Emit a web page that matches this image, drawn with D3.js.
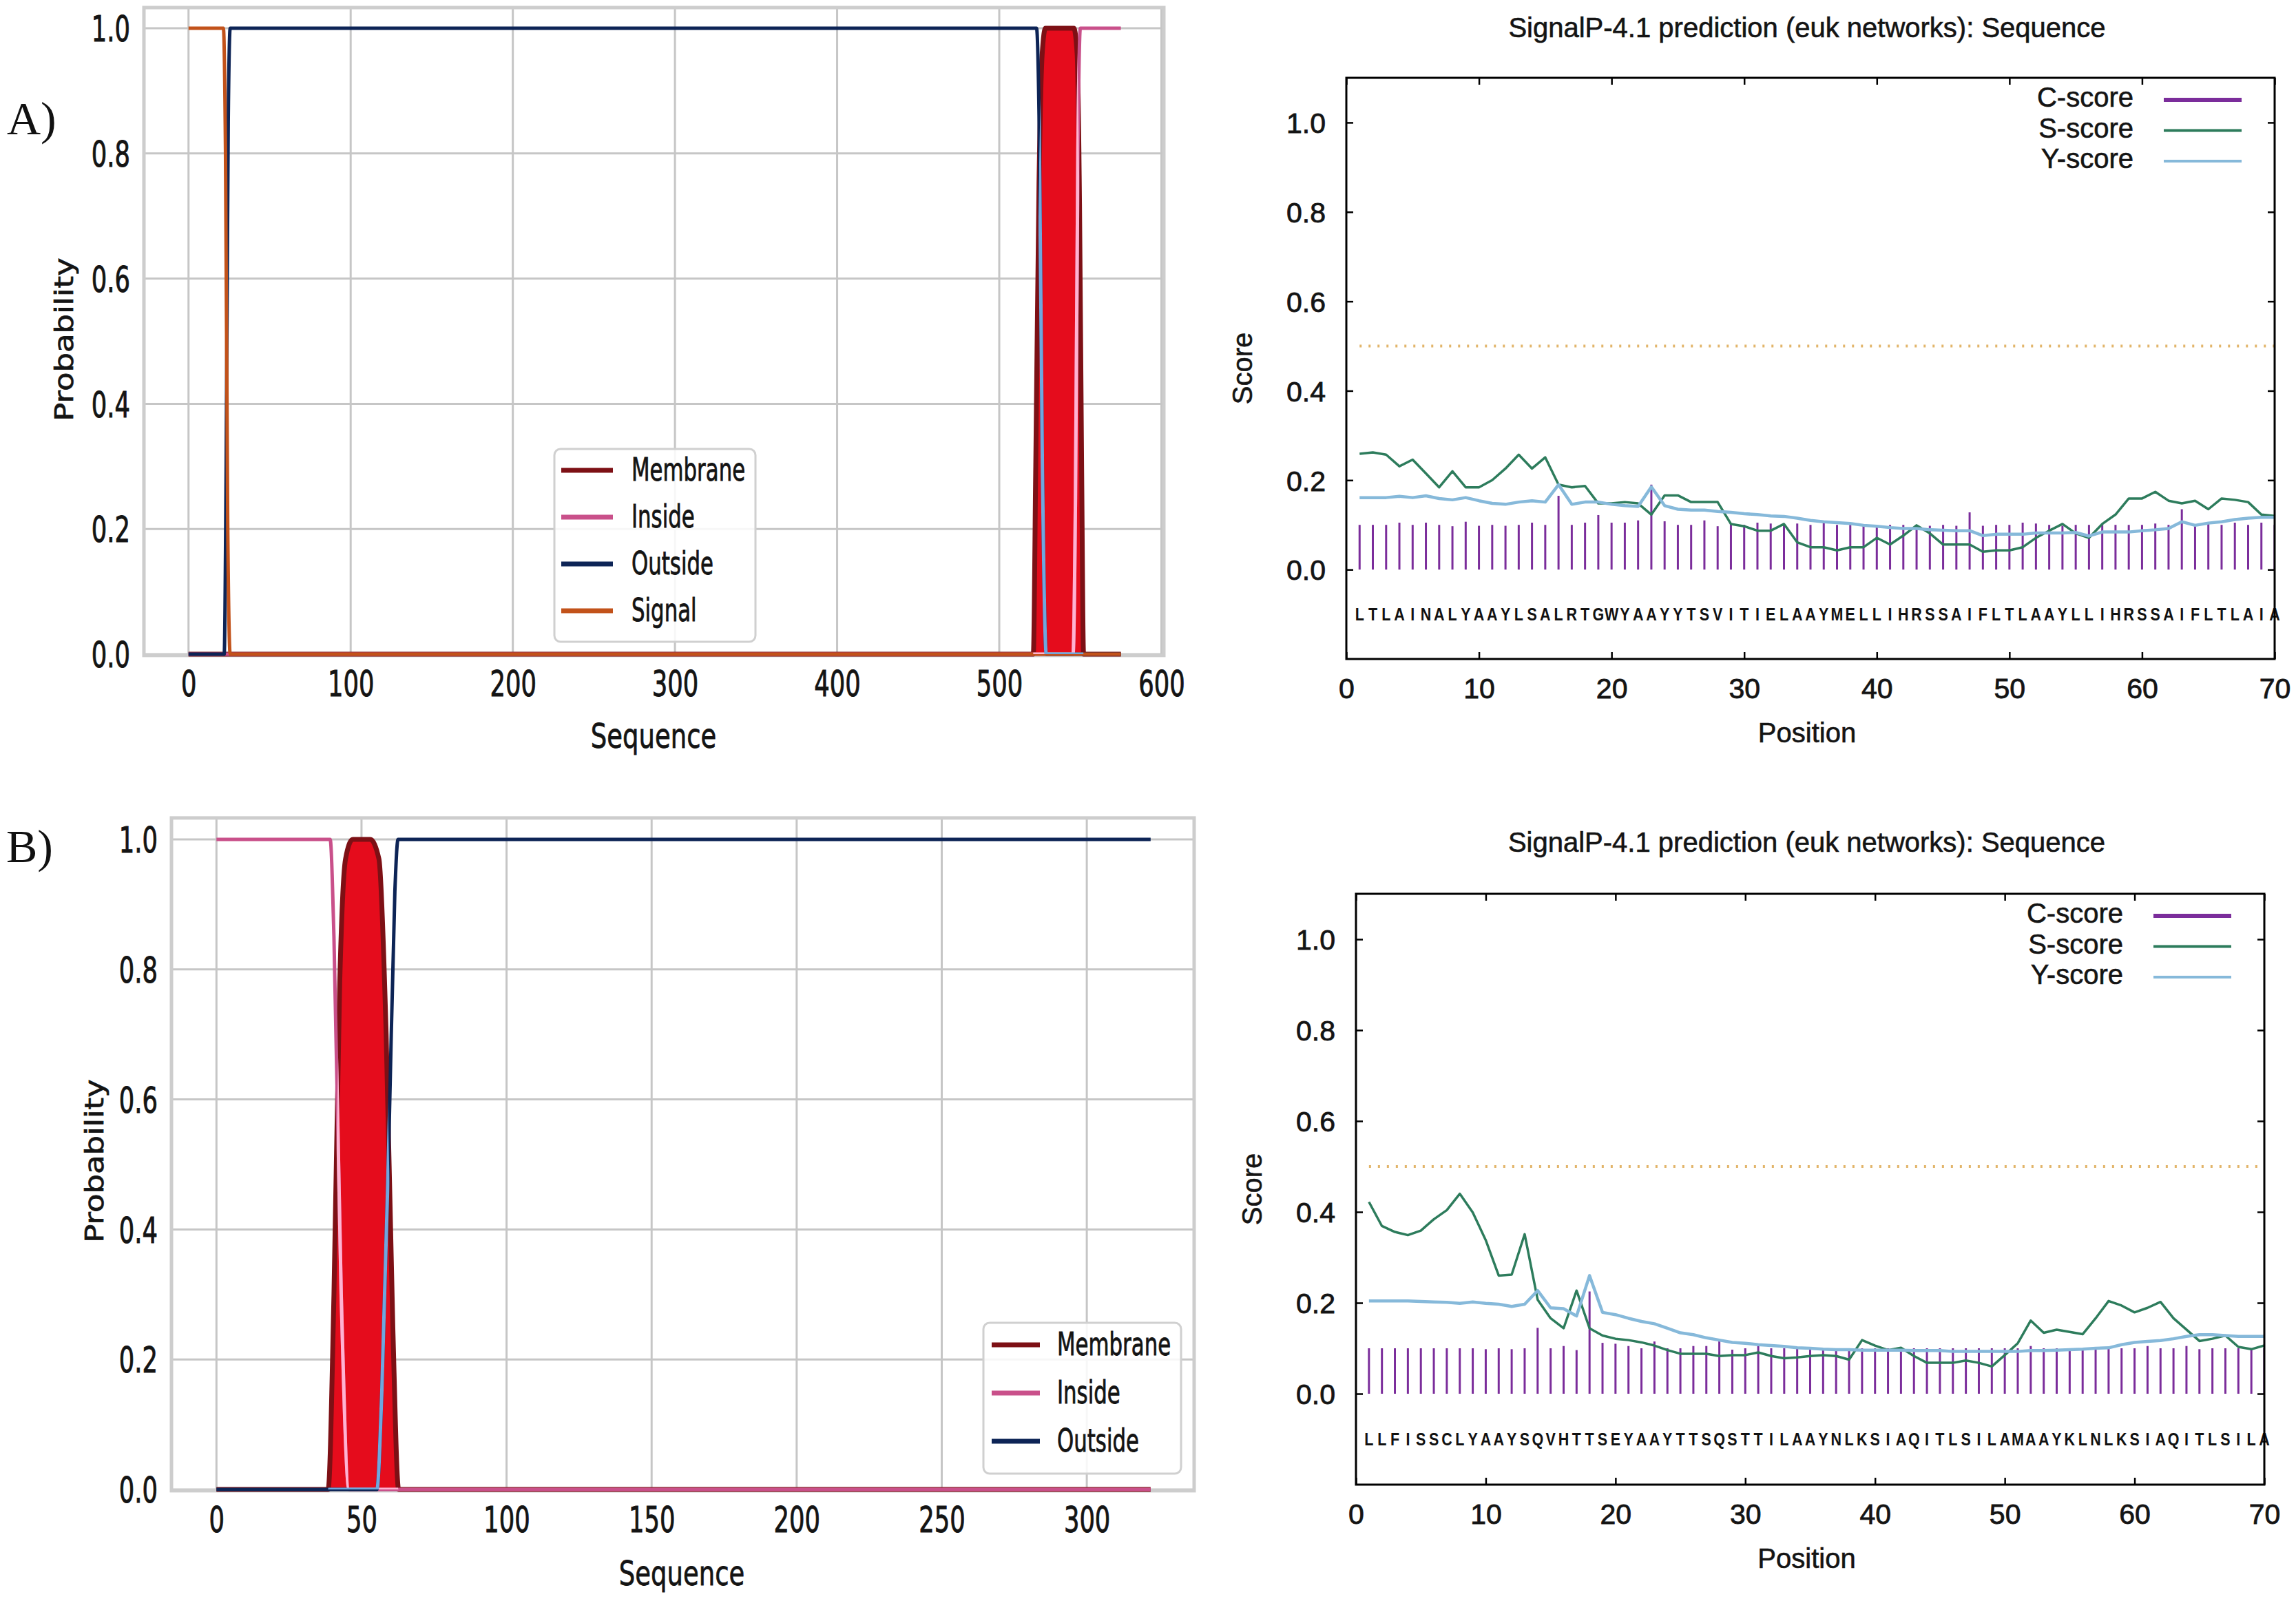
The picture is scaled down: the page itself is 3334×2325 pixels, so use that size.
<!DOCTYPE html>
<html><head><meta charset="utf-8">
<script src="https://cdn.jsdelivr.net/npm/d3@7"></script>
<style>html,body{margin:0;padding:0;background:#fff;} svg{display:block;}</style>
</head><body>
<svg id="chart" width="3334" height="2325"></svg>
<script>
// ---------------- DATA ----------------
// Left panels: topology probabilities (x = sequence position, y = probability)
const tmA_ticksX = [0, 100, 200, 300, 400, 500, 600];
const tmB_ticksX = [0, 50, 100, 150, 200, 250, 300];
const tm_ticksY = [0, 0.2, 0.4, 0.6, 0.8, 1.0];

const tmA_membrane_x = [0, 521, 522.5, 524.5, 526.5, 528.5, 546, 548, 549.5, 550.8, 552, 575];
const tmA_membrane_y = [0, 0, 0.3, 0.75, 0.96, 1, 1, 0.96, 0.72, 0.3, 0, 0];
const tmA_inside_x = [0, 545.5, 547, 548.5, 550, 575];
const tmA_inside_y = [0, 0, 0.25, 0.8, 1, 1];
const tmA_outside_x = [0, 22, 23.2, 24.5, 25.7, 523, 524.6, 526.6, 529, 575];
const tmA_outside_y = [0, 0, 0.3, 0.85, 1, 1, 0.85, 0.3, 0, 0];
const tmA_signal_x = [0, 21.5, 22.8, 24.2, 25.7, 575];
const tmA_signal_y = [1, 1, 0.8, 0.2, 0, 0];

const tmB_membrane_x = [0, 38.5, 40.5, 42.5, 44.5, 47, 50, 53, 56, 58.5, 60.8, 62.8, 322];
const tmB_membrane_y = [0, 0, 0.3, 0.78, 0.97, 1, 1, 1, 0.97, 0.7, 0.25, 0, 0];
const tmB_inside_x = [0, 39.2, 40.5, 43, 45.7, 322];
const tmB_inside_y = [1, 1, 0.85, 0.3, 0, 0];
const tmB_outside_x = [0, 55.3, 57, 59.5, 61.5, 62.6, 322];
const tmB_outside_y = [0, 0, 0.15, 0.55, 0.92, 1, 1];

const tmA_legend = ["Membrane", "Inside", "Outside", "Signal"];
const tmB_legend = ["Membrane", "Inside", "Outside"];

// Right panels: SignalP-4.1 scores at positions 1..70
const sp_ticksX = [0, 10, 20, 30, 40, 50, 60, 70];
const sp_ticksY = [0, 0.2, 0.4, 0.6, 0.8, 1.0];
const sp_threshold = 0.5;

const spA_letters = "LTLAINALYAAYLSALRTGWYAAYYTSVITIELAAYMELLIHRSSAIFLTLAAYLLIHRSSAIFLTLAIA";
const spA_C = [0.10,0.10,0.10,0.105,0.10,0.105,0.10,0.097,0.107,0.098,
               0.10,0.098,0.10,0.105,0.10,0.165,0.10,0.105,0.122,0.105,
               0.105,0.11,0.19,0.108,0.10,0.10,0.11,0.097,0.103,0.10,
               0.105,0.103,0.10,0.103,0.10,0.105,0.10,0.10,0.10,0.098,
               0.10,0.10,0.10,0.098,0.10,0.098,0.128,0.098,0.10,0.10,
               0.105,0.103,0.10,0.098,0.10,0.10,0.10,0.10,0.10,0.10,
               0.103,0.10,0.135,0.10,0.105,0.10,0.105,0.10,0.105,0.10];
const spA_S = [0.259,0.262,0.257,0.231,0.246,0.215,0.184,0.220,0.184,0.184,
               0.200,0.226,0.257,0.226,0.251,0.190,0.184,0.187,0.148,0.148,
               0.151,0.148,0.123,0.166,0.166,0.151,0.151,0.151,0.102,0.097,
               0.087,0.087,0.102,0.061,0.050,0.050,0.043,0.050,0.050,0.071,
               0.056,0.076,0.099,0.081,0.056,0.056,0.056,0.040,0.043,0.043,
               0.050,0.071,0.087,0.102,0.081,0.071,0.102,0.123,0.159,0.159,
               0.174,0.154,0.148,0.154,0.135,0.159,0.156,0.151,0.123,0.120];
const spA_Y = [0.161,0.161,0.161,0.164,0.161,0.165,0.159,0.156,0.161,0.154,
               0.148,0.146,0.151,0.154,0.151,0.190,0.146,0.151,0.151,0.146,
               0.143,0.141,0.185,0.143,0.135,0.133,0.133,0.130,0.128,0.125,
               0.123,0.120,0.119,0.115,0.110,0.107,0.105,0.103,0.099,0.097,
               0.094,0.092,0.092,0.089,0.088,0.087,0.087,0.076,0.079,0.079,
               0.079,0.082,0.082,0.082,0.083,0.075,0.084,0.084,0.084,0.087,
               0.089,0.092,0.107,0.099,0.104,0.107,0.112,0.115,0.117,0.117];

const spB_letters = "LLFISSCLYAAYSQVHTTSEYAAYTTSQSTTILAAYNLKSIAQITLSILAMAAYKLNLKSIAQITLSILA";
const spB_C = [0.10,0.10,0.10,0.10,0.10,0.10,0.10,0.10,0.10,0.098,
               0.10,0.098,0.10,0.145,0.10,0.105,0.096,0.225,0.112,0.11,
               0.105,0.10,0.115,0.10,0.10,0.105,0.105,0.115,0.097,0.10,
               0.105,0.10,0.10,0.10,0.10,0.10,0.10,0.10,0.10,0.10,
               0.10,0.10,0.10,0.10,0.10,0.10,0.10,0.10,0.10,0.10,
               0.10,0.105,0.10,0.10,0.10,0.10,0.10,0.10,0.10,0.10,
               0.105,0.10,0.10,0.105,0.098,0.10,0.10,0.10,0.10,0.10];
const spB_S = [0.422,0.369,0.356,0.349,0.359,0.384,0.404,0.440,0.399,0.338,
               0.260,0.262,0.351,0.207,0.166,0.144,0.227,0.144,0.128,0.121,
               0.118,0.113,0.106,0.096,0.088,0.088,0.088,0.083,0.085,0.085,
               0.091,0.083,0.078,0.080,0.083,0.085,0.083,0.075,0.118,0.106,
               0.096,0.101,0.083,0.068,0.068,0.068,0.073,0.068,0.060,0.085,
               0.111,0.161,0.134,0.141,0.136,0.131,0.166,0.204,0.194,0.179,
               0.189,0.202,0.166,0.141,0.116,0.121,0.128,0.103,0.098,0.106];
const spB_Y = [0.204,0.204,0.204,0.204,0.203,0.202,0.201,0.199,0.202,0.199,
               0.197,0.192,0.197,0.227,0.189,0.187,0.171,0.260,0.179,0.174,
               0.166,0.159,0.154,0.144,0.134,0.130,0.123,0.118,0.113,0.111,
               0.108,0.106,0.104,0.101,0.100,0.098,0.097,0.097,0.096,0.096,
               0.096,0.096,0.095,0.095,0.095,0.093,0.093,0.093,0.093,0.093,
               0.093,0.095,0.095,0.096,0.097,0.098,0.100,0.101,0.108,0.113,
               0.115,0.117,0.121,0.126,0.130,0.130,0.128,0.126,0.126,0.126];
const sp_legend = ["C-score", "S-score", "Y-score"];

// ---------------- STYLE ----------------
const COL = {
  membrane: "#7d1015", membraneFill: "#e50c1c",
  inside: "#c9508a", insideLight: "#ffb3d2",
  outside: "#0d2456", outsideLight: "#6fa7de",
  signal: "#c2521a",
  grid: "#c6c6c6", frame: "#cdcdcd",
  C: "#7b2d9b", S: "#2d7c5c", Y: "#86b9da", thr: "#e2b56a"
};
const DV = "'DejaVu Sans', sans-serif";
const LS = "'Liberation Sans', Arial, sans-serif";
const INK = "#141414";

const svg = d3.select("#chart");
svg.append("rect").attr("width", 3334).attr("height", 2325).attr("fill", "#fff");
const defs = svg.append("defs");

function pairs(xs, ys) { return xs.map((v, i) => [v, ys[i]]); }
function heavy(sel, w) { return sel.attr("stroke", INK).attr("stroke-width", w).attr("paint-order", "stroke"); }

// ---------------- LEFT PANELS ----------------
function drawTM(cfg) {
  const g = svg.append("g");
  const x = d3.scaleLinear().domain(cfg.xDomain).range([cfg.left, cfg.right]);
  const y = d3.scaleLinear().domain([0, 1]).range([cfg.zeroY, cfg.oneY]);
  const top = y(1.033), bottom = y(-0.002);

  // grid
  g.append("g").selectAll("line").data(cfg.xTicks).join("line")
    .attr("x1", d => x(d)).attr("x2", d => x(d)).attr("y1", top).attr("y2", bottom)
    .attr("stroke", COL.grid).attr("stroke-width", 3);
  g.append("g").selectAll("line").data(tm_ticksY).join("line")
    .attr("x1", cfg.left).attr("x2", cfg.right).attr("y1", d => y(d)).attr("y2", d => y(d))
    .attr("stroke", COL.grid).attr("stroke-width", 3);
  g.append("rect").attr("x", cfg.left).attr("y", top)
    .attr("width", cfg.right - cfg.left).attr("height", bottom - top)
    .attr("fill", "none").attr("stroke", COL.frame).attr("stroke-width", 5);

  const line = d3.line().x(d => x(d[0])).y(d => y(d[1])).curve(d3.curveMonotoneX);
  const area = d3.area().x(d => x(d[0])).y0(y(0)).y1(d => y(d[1])).curve(d3.curveMonotoneX);

  const mem = pairs(cfg.membrane[0], cfg.membrane[1]);
  g.append("path").attr("d", area(mem)).attr("fill", COL.membraneFill);
  g.append("path").attr("d", line(mem)).attr("fill", "none")
    .attr("stroke", COL.membrane).attr("stroke-width", 7).attr("stroke-linejoin", "round");

  const clipId = cfg.id + "-memclip";
  defs.append("clipPath").attr("id", clipId).append("path").attr("d", area(mem));

  cfg.series.forEach(s => {
    g.append("path").attr("d", line(pairs(s.x, s.y))).attr("fill", "none")
      .attr("stroke", s.color).attr("stroke-width", 5).attr("stroke-linejoin", "round");
  });
  cfg.series.filter(s => s.light).forEach(s => {
    g.append("path").attr("d", line(pairs(s.x, s.y))).attr("fill", "none")
      .attr("clip-path", `url(#${clipId})`)
      .attr("stroke", s.light).attr("stroke-width", 5);
  });

  // axes (labels only, squeezed DejaVu)
  const SQ = 0.68;
  const gx = g.append("g").attr("transform", `translate(0,${bottom})`)
    .call(d3.axisBottom(x).tickValues(cfg.xTicks).tickFormat(d3.format("d")).tickSize(0));
  gx.select(".domain").remove();
  heavy(gx.selectAll("text").attr("dy", null).attr("y", cfg.xLabelBase - bottom)
    .attr("transform", `scale(${SQ},1)`)
    .style("font-family", DV).style("font-size", "52px").attr("fill", INK), 1);

  const gy = g.append("g").attr("transform", `translate(${cfg.left},0)`)
    .call(d3.axisLeft(y).tickValues(tm_ticksY).tickFormat(d3.format(".1f")).tickSize(0).tickPadding(0));
  gy.select(".domain").remove();
  heavy(gy.selectAll("text").attr("x", -20 / SQ).attr("dy", "0.36em")
    .attr("transform", `scale(${SQ},1)`)
    .style("font-family", DV).style("font-size", "52px").attr("fill", INK), 1);

  // axis titles
  heavy(g.append("text").attr("transform", `translate(${cfg.xTitle[0]},${cfg.xTitle[1]}) scale(0.74,1)`)
    .attr("text-anchor", "middle").style("font-family", DV).style("font-size", "50px")
    .attr("fill", INK).text("Sequence"), 0.8);
  heavy(g.append("text").attr("transform", `translate(${cfg.yTitle[0]},${cfg.yTitle[1]}) scale(0.82,1) rotate(-90)`)
    .attr("text-anchor", "middle").attr("dy", "0.36em").style("font-family", DV).style("font-size", "45px")
    .attr("fill", INK).text("Probability"), 0.8);

  // legend
  const L = cfg.legend;
  g.append("rect").attr("x", L.x0).attr("y", L.y0).attr("width", L.x1 - L.x0).attr("height", L.y1 - L.y0)
    .attr("rx", 9).attr("fill", "#fff").attr("fill-opacity", 0.85)
    .attr("stroke", "#d0d0d0").attr("stroke-width", 3);
  const lg = g.append("g").selectAll("g").data(cfg.legendNames).join("g")
    .attr("transform", (d, i) => `translate(0,${L.row0 + i * L.step})`);
  lg.append("line").attr("x1", L.lx0).attr("x2", L.lx1)
    .attr("stroke", d => cfg.legendColors[d]).attr("stroke-width", 7);
  heavy(lg.append("text").attr("transform", `translate(${L.tx},15) scale(0.67,1)`)
    .style("font-family", DV).style("font-size", "46px").attr("fill", INK).text(d => d), 0.9);

  // panel letter
  svg.append("text").attr("x", cfg.tag[0]).attr("y", cfg.tag[1])
    .style("font-family", "'Liberation Serif', 'Times New Roman', serif").style("font-size", "68px")
    .attr("fill", "#111").text(cfg.tagText);
}

const legendColors = { Membrane: COL.membrane, Inside: COL.inside, Outside: COL.outside, Signal: COL.signal };

drawTM({
  id: "tmA", left: 209, right: 1690, xDomain: [-27.5, 601.5], zeroY: 950, oneY: 41,
  xTicks: tmA_ticksX, xLabelBase: 1011,
  membrane: [tmA_membrane_x, tmA_membrane_y],
  series: [
    { x: tmA_inside_x, y: tmA_inside_y, color: COL.inside, light: COL.insideLight },
    { x: tmA_outside_x, y: tmA_outside_y, color: COL.outside, light: COL.outsideLight },
    { x: tmA_signal_x, y: tmA_signal_y, color: COL.signal }
  ],
  xTitle: [949, 1086], yTitle: [93, 493],
  legend: { x0: 805, y0: 652, x1: 1097, y1: 932, row0: 683, step: 68, lx0: 815, lx1: 890, tx: 917 },
  legendNames: tmA_legend, legendColors: legendColors,
  tag: [10, 195], tagText: "A)"
});

drawTM({
  id: "tmB", left: 249, right: 1734, xDomain: [-15.5, 337], zeroY: 2163, oneY: 1219,
  xTicks: tmB_ticksX, xLabelBase: 2225,
  membrane: [tmB_membrane_x, tmB_membrane_y],
  series: [
    { x: tmB_inside_x, y: tmB_inside_y, color: COL.inside, light: COL.insideLight },
    { x: tmB_outside_x, y: tmB_outside_y, color: COL.outside, light: COL.outsideLight }
  ],
  xTitle: [990, 2302], yTitle: [137, 1686],
  legend: { x0: 1428, y0: 1921, x1: 1715, y1: 2140, row0: 1953, step: 70, lx0: 1440, lx1: 1510, tx: 1535 },
  legendNames: tmB_legend, legendColors: legendColors,
  tag: [9, 1252], tagText: "B)"
});

// ---------------- RIGHT PANELS ----------------
function drawSP(cfg) {
  const g = svg.append("g");
  const x = d3.scaleLinear().domain([0, 70]).range([cfg.left, cfg.right]);
  const y = d3.scaleLinear().domain([-0.2, 1.1]).range([cfg.bottom, cfg.top]);
  const pos = d3.range(1, 71);

  const clipId = cfg.id + "-clip";
  defs.append("clipPath").attr("id", clipId).append("rect")
    .attr("x", cfg.left).attr("y", cfg.top).attr("width", cfg.right - cfg.left).attr("height", cfg.bottom - cfg.top);
  const plot = g.append("g").attr("clip-path", `url(#${clipId})`);

  // threshold
  plot.append("line").attr("x1", x(1)).attr("x2", x(70)).attr("y1", y(sp_threshold)).attr("y2", y(sp_threshold))
    .attr("stroke", COL.thr).attr("stroke-width", 4).attr("stroke-dasharray", "3,10");

  // C-score impulses
  plot.append("g").selectAll("line").data(pos).join("line")
    .attr("x1", d => x(d)).attr("x2", d => x(d)).attr("y1", y(0)).attr("y2", d => y(cfg.C[d - 1]))
    .attr("stroke", COL.C).attr("stroke-width", 3);

  const line = d3.line().x(d => x(d[0])).y(d => y(d[1]));
  plot.append("path").attr("d", line(pos.map(p => [p, cfg.S[p - 1]]))).attr("fill", "none")
    .attr("stroke", COL.S).attr("stroke-width", 3.5).attr("stroke-linejoin", "round");
  plot.append("path").attr("d", line(pos.map(p => [p, cfg.Y[p - 1]]))).attr("fill", "none")
    .attr("stroke", COL.Y).attr("stroke-width", 4.5).attr("stroke-linejoin", "round");

  // sequence letters
  g.append("g").selectAll("text").data(pos).join("text")
    .attr("transform", d => `translate(${x(d)},${y(-0.1)}) scale(0.86,1)`)
    .attr("text-anchor", "middle").attr("dy", "0.36em")
    .style("font-family", LS).style("font-weight", "bold").style("font-size", "25px")
    .attr("fill", "#111").text(d => cfg.letters[d - 1]);

  // frame
  g.append("rect").attr("x", cfg.left).attr("y", cfg.top)
    .attr("width", cfg.right - cfg.left).attr("height", cfg.bottom - cfg.top)
    .attr("fill", "none").attr("stroke", "#000").attr("stroke-width", 3);

  // axes
  const styleAxis = (sel) => {
    sel.select(".domain").remove();
    sel.selectAll(".tick line").attr("stroke", "#000").attr("stroke-width", 2.5);
    heavy(sel.selectAll("text").style("font-family", LS).style("font-size", "41px").attr("fill", INK), 0.8);
  };
  const gb = g.append("g").attr("transform", `translate(0,${cfg.bottom})`)
    .call(d3.axisBottom(x).tickValues(sp_ticksX).tickFormat(d3.format("d")).tickSizeInner(-10).tickSizeOuter(0));
  styleAxis(gb);
  gb.selectAll("text").attr("dy", null).attr("y", 57);
  const gt = g.append("g").attr("transform", `translate(0,${cfg.top})`)
    .call(d3.axisTop(x).tickValues(sp_ticksX).tickFormat("").tickSizeInner(-10).tickSizeOuter(0));
  styleAxis(gt);
  const gl = g.append("g").attr("transform", `translate(${cfg.left},0)`)
    .call(d3.axisLeft(y).tickValues(sp_ticksY).tickFormat(d3.format(".1f")).tickSizeInner(-10).tickSizeOuter(0));
  styleAxis(gl);
  gl.selectAll("text").attr("x", -30).attr("dy", "0.36em");
  const gr = g.append("g").attr("transform", `translate(${cfg.right},0)`)
    .call(d3.axisRight(y).tickValues(sp_ticksY).tickFormat("").tickSizeInner(-10).tickSizeOuter(0));
  styleAxis(gr);

  // legend
  const legCols = [COL.C, COL.S, COL.Y];
  const legW = [6, 4, 4];
  const lg = g.append("g").selectAll("g").data(sp_legend).join("g")
    .attr("transform", (d, i) => `translate(0,${cfg.top + 42 + i * 44.5})`);
  heavy(lg.append("text").attr("x", cfg.right - 205).attr("text-anchor", "end")
    .style("font-family", LS).style("font-size", "40px").attr("fill", INK).text(d => d), 0.6);
  lg.append("line").attr("x1", cfg.right - 161).attr("x2", cfg.right - 48).attr("y1", -10).attr("y2", -10)
    .attr("stroke", (d, i) => legCols[i]).attr("stroke-width", (d, i) => legW[i]);

  // titles
  const cx = (cfg.left + cfg.right) / 2 - 5;
  heavy(g.append("text").attr("x", cx).attr("y", cfg.titleBase).attr("text-anchor", "middle")
    .style("font-family", LS).style("font-size", "40px").attr("fill", INK)
    .text("SignalP-4.1 prediction (euk networks): Sequence"), 0.6);
  heavy(g.append("text").attr("x", cx).attr("y", cfg.bottom + 121).attr("text-anchor", "middle")
    .style("font-family", LS).style("font-size", "40px").attr("fill", INK).text("Position"), 0.6);
  heavy(g.append("text").attr("transform", `translate(${cfg.left - 151},${(cfg.top + cfg.bottom) / 2}) rotate(-90)`)
    .attr("text-anchor", "middle").attr("dy", "0.36em")
    .style("font-family", LS).style("font-size", "40px").attr("fill", INK).text("Score"), 0.6);
}

drawSP({ id: "spA", left: 1955, right: 3303, top: 113, bottom: 957, titleBase: 54,
  C: spA_C, S: spA_S, Y: spA_Y, letters: spA_letters });
drawSP({ id: "spB", left: 1969, right: 3288, top: 1298, bottom: 2156, titleBase: 1237,
  C: spB_C, S: spB_S, Y: spB_Y, letters: spB_letters });
</script>
</body></html>
